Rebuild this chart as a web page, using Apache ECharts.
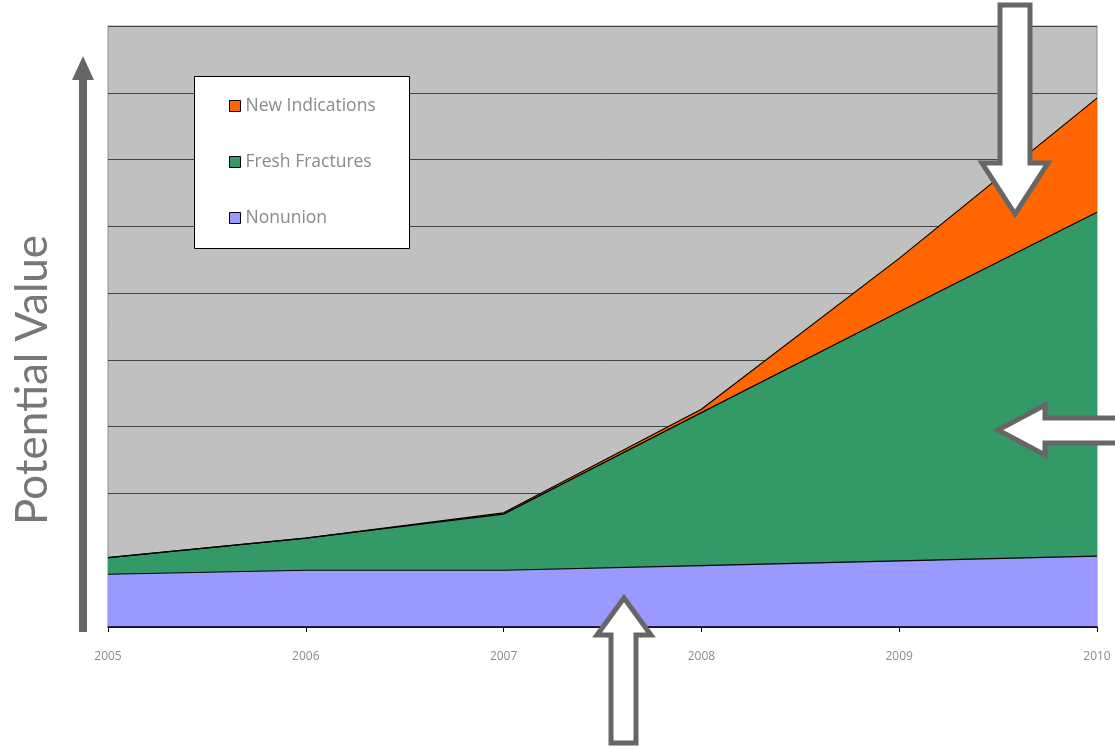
<!DOCTYPE html>
<html>
<head>
<meta charset="utf-8">
<script src="https://cdn.jsdelivr.net/npm/echarts@6/dist/echarts.min.js"></script>
<style>
  html, body { margin: 0; padding: 0; background: #ffffff; }
  #chart { width: 1115px; height: 746px; }
</style>
</head>
<body>
<div id="chart"></div>
<script>
// Years on the horizontal axis
var years = ['2005', '2006', '2007', '2008', '2009', '2010'];

// Stacked segments (bottom to top)
var nonunion       = [0.79, 0.85, 0.85, 0.92, 0.99, 1.06];
var freshFractures = [0.25, 0.48, 0.84, 2.29, 3.73, 5.15];
var newIndications = [0.00, 0.00, 0.02, 0.05, 0.80, 1.71];

var seriesNames  = ['Nonunion', 'Fresh Fractures', 'New Indications'];
var seriesColors = ['#9999FF', '#339966', '#FF6600'];
var seriesData   = [nonunion, freshFractures, newIndications];

var chart = echarts.init(document.getElementById('chart'));

var GRID = { left: 108, right: 18, top: 26, bottom: 119 };

function areaSeries(i) {
  return {
    name: seriesNames[i],
    type: 'line',
    stack: 'total',
    data: seriesData[i],
    symbol: 'none',
    smooth: false,
    lineStyle: { color: '#000000', width: 1.2 },
    itemStyle: { color: seriesColors[i], borderColor: '#000' },
    areaStyle: { color: seriesColors[i], opacity: 1 },
    emphasis: { disabled: true },
    z: 3
  };
}

// Hollow block arrows used as callouts
function hollowArrow(points) {
  return {
    type: 'polygon',
    shape: { points: points },
    style: { fill: '#ffffff', stroke: '#666666', lineWidth: 5, lineJoin: 'miter' },
    z: 100
  };
}

chart.setOption({
  animation: false,
  backgroundColor: '#ffffff',
  grid: {
    left: GRID.left, right: GRID.right, top: GRID.top, bottom: GRID.bottom,
    show: true, backgroundColor: '#C0C0C0', borderColor: '#8c8c8c', borderWidth: 1
  },
  legend: {
    data: ['New Indications', 'Fresh Fractures', 'Nonunion'],
    orient: 'vertical',
    left: 224, top: 92,
    itemWidth: 11, itemHeight: 11, itemGap: 38,
    icon: 'rect',
    selectedMode: false,
    z: 6,
    itemStyle: { borderColor: '#000', borderWidth: 1 },
    textStyle: { color: '#8a8a8a', fontSize: 17.5, fontFamily: 'Open Sans', padding: [0, 0, 0, 0] }
  },
  xAxis: {
    type: 'category',
    data: years,
    boundaryGap: false,
    axisLine: { lineStyle: { color: '#000', width: 1.5 } },
    axisTick: { show: true, length: 5, lineStyle: { color: '#000' } },
    axisLabel: { color: '#8c8c8c', fontSize: 12, fontFamily: 'Open Sans', margin: 24 },
    splitLine: { show: false },
    z: 10
  },
  yAxis: {
    type: 'value',
    min: 0, max: 9, interval: 1,
    axisLine: { show: false },
    axisTick: { show: false },
    axisLabel: { show: false },
    splitLine: { show: true, lineStyle: { color: '#444444', width: 1 } }
  },
  series: [areaSeries(0), areaSeries(1), areaSeries(2)],
  graphic: [
    // legend frame
    { type: 'rect', shape: { x: 194.5, y: 76.5, width: 215, height: 172 },
      style: { fill: '#ffffff', stroke: '#000', lineWidth: 1 }, z: 5 },
    // vertical axis arrow
    { type: 'polygon',
      shape: { points: [[79, 632], [87, 632], [87, 80], [94, 80], [83, 56], [72, 80], [79, 80]] },
      style: { fill: '#666666' }, z: 100 },
    // axis title
    { type: 'text', x: 33, y: 380, rotation: Math.PI / 2,
      style: { text: 'Potential Value', fill: '#777777', fontSize: 44, fontFamily: 'Lato',
               align: 'center', verticalAlign: 'middle' }, z: 100 },
    // down arrow pointing at New Indications
    hollowArrow([[1000, 5], [1030, 5], [1030, 163], [1048, 163], [1015, 214], [982, 163], [1000, 163]]),
    // left arrow pointing at Fresh Fractures
    hollowArrow([[1120, 418], [1045, 418], [1045, 405], [998, 430], [1045, 455], [1045, 443], [1120, 443]]),
    // up arrow pointing at Nonunion
    hollowArrow([[611, 743], [636, 743], [636, 635], [651, 635], [624, 598], [597, 635], [611, 635]])
  ]
});
</script>
</body>
</html>
